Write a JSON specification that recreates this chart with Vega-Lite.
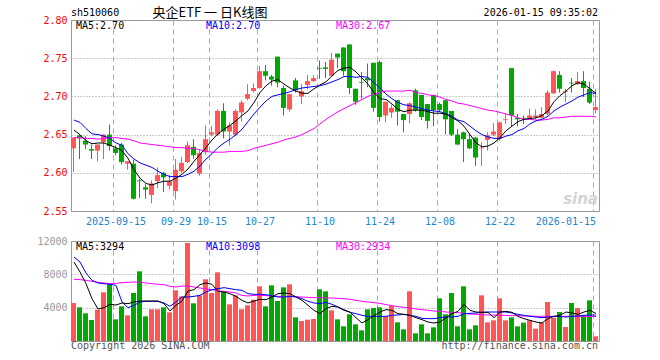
{
"$schema": "https://vega.github.io/schema/vega-lite/v6.json",
"background": "white",
"padding": {"left": 36, "top": 6, "right": 0, "bottom": 0},
"spacing": 30,
"bounds": "flush",
"config": {"view": {"stroke": "#999", "strokeWidth": 1}, "axis": {"labelFont": "DejaVu Sans Mono", "labelFontSize": 10}, "text": {"font": "DejaVu Sans Mono", "fontSize": 10}},
"datasets": {"k": [
{"d":"2025-09-04","o":2.632,"c":2.646,"h":2.646,"l":2.601,"v":4560,"m5":2.656,"m10":2.669,"m30":2.646,"v5":9480,"v10":10080,"v30":7400},
{"d":"2025-09-05","o":2.649,"c":2.645,"h":2.650,"l":2.618,"v":4040,"m5":2.650,"m10":2.666,"m30":2.646,"v5":8280,"v10":9480,"v30":7360},
{"d":"2025-09-08","o":2.642,"c":2.637,"h":2.648,"l":2.631,"v":3320,"m5":2.642,"m10":2.658,"m30":2.645,"v5":6880,"v10":8160,"v30":7280},
{"d":"2025-09-09","o":2.631,"c":2.629,"h":2.637,"l":2.618,"v":2520,"m5":2.638,"m10":2.651,"m30":2.645,"v5":5080,"v10":7280,"v30":7160},
{"d":"2025-09-10","o":2.629,"c":2.637,"h":2.637,"l":2.615,"v":3760,"m5":2.639,"m10":2.650,"m30":2.644,"v5":3840,"v10":6960,"v30":7040},
{"d":"2025-09-11","o":2.640,"c":2.650,"h":2.650,"l":2.618,"v":5840,"m5":2.639,"m10":2.648,"m30":2.645,"v5":4000,"v10":6880,"v30":6960},
{"d":"2025-09-12","o":2.650,"c":2.635,"h":2.663,"l":2.629,"v":6800,"m5":2.636,"m10":2.645,"m30":2.646,"v5":4400,"v10":6800,"v30":6880},
{"d":"2025-09-15","o":2.632,"c":2.626,"h":2.636,"l":2.623,"v":2600,"m5":2.633,"m10":2.639,"m30":2.646,"v5":4320,"v10":6680,"v30":6920},
{"d":"2025-09-16","o":2.637,"c":2.614,"h":2.639,"l":2.611,"v":4160,"m5":2.629,"m10":2.636,"m30":2.645,"v5":4560,"v10":4680,"v30":7000},
{"d":"2025-09-17","o":2.612,"c":2.615,"h":2.615,"l":2.604,"v":3080,"m5":2.619,"m10":2.625,"m30":2.644,"v5":4480,"v10":4000,"v30":7040},
{"d":"2025-09-18","o":2.612,"c":2.566,"h":2.617,"l":2.565,"v":5760,"m5":2.604,"m10":2.618,"m30":2.642,"v5":4680,"v10":4280,"v30":7080},
{"d":"2025-09-19","o":2.590,"c":2.589,"h":2.592,"l":2.567,"v":8360,"m5":2.593,"m10":2.613,"m30":2.639,"v5":4800,"v10":4680,"v30":7080},
{"d":"2025-09-22","o":2.581,"c":2.578,"h":2.585,"l":2.566,"v":2960,"m5":2.586,"m10":2.610,"m30":2.638,"v5":4800,"v10":4760,"v30":6960},
{"d":"2025-09-23","o":2.571,"c":2.586,"h":2.590,"l":2.560,"v":3800,"m5":2.584,"m10":2.607,"m30":2.637,"v5":4800,"v10":4760,"v30":6880},
{"d":"2025-09-24","o":2.589,"c":2.597,"h":2.607,"l":2.580,"v":3800,"m5":2.587,"m10":2.602,"m30":2.636,"v5":4800,"v10":4760,"v30":6800},
{"d":"2025-09-25","o":2.600,"c":2.594,"h":2.601,"l":2.575,"v":4040,"m5":2.589,"m10":2.598,"m30":2.635,"v5":4480,"v10":4560,"v30":6760},
{"d":"2025-09-26","o":2.583,"c":2.589,"h":2.597,"l":2.578,"v":3440,"m5":2.589,"m10":2.595,"m30":2.634,"v5":3600,"v10":4160,"v30":6560},
{"d":"2025-09-29","o":2.576,"c":2.604,"h":2.618,"l":2.565,"v":6080,"m5":2.593,"m10":2.595,"m30":2.633,"v5":4280,"v10":4680,"v30":6480},
{"d":"2025-09-30","o":2.602,"c":2.613,"h":2.621,"l":2.600,"v":5360,"m5":2.598,"m10":2.595,"m30":2.633,"v5":4800,"v10":5280,"v30":6600},
{"d":"2025-10-09","o":2.614,"c":2.636,"h":2.641,"l":2.613,"v":11760,"m5":2.605,"m10":2.598,"m30":2.632,"v5":6000,"v10":5280,"v30":6600},
{"d":"2025-10-10","o":2.634,"c":2.623,"h":2.644,"l":2.618,"v":4520,"m5":2.615,"m10":2.602,"m30":2.632,"v5":6160,"v10":5360,"v30":6480},
{"d":"2025-10-13","o":2.599,"c":2.626,"h":2.631,"l":2.596,"v":5480,"m5":2.624,"m10":2.609,"m30":2.630,"v5":6760,"v10":5480,"v30":6360},
{"d":"2025-10-14","o":2.627,"c":2.644,"h":2.662,"l":2.624,"v":7400,"m5":2.633,"m10":2.618,"m30":2.628,"v5":6960,"v10":5880,"v30":6240},
{"d":"2025-10-15","o":2.650,"c":2.653,"h":2.661,"l":2.648,"v":5760,"m5":2.643,"m10":2.625,"m30":2.627,"v5":6800,"v10":6160,"v30":6160},
{"d":"2025-10-16","o":2.650,"c":2.681,"h":2.683,"l":2.648,"v":8240,"m5":2.651,"m10":2.633,"m30":2.627,"v5":5960,"v10":6280,"v30":6000},
{"d":"2025-10-17","o":2.681,"c":2.654,"h":2.691,"l":2.645,"v":5880,"m5":2.657,"m10":2.639,"m30":2.627,"v5":5880,"v10":6400,"v30":5960},
{"d":"2025-10-20","o":2.654,"c":2.662,"h":2.666,"l":2.636,"v":4400,"m5":2.662,"m10":2.644,"m30":2.628,"v5":5680,"v10":6280,"v30":5880},
{"d":"2025-10-21","o":2.650,"c":2.681,"h":2.683,"l":2.648,"v":5480,"m5":2.668,"m10":2.650,"m30":2.628,"v5":5360,"v10":6160,"v30":5760},
{"d":"2025-10-22","o":2.679,"c":2.692,"h":2.695,"l":2.667,"v":3800,"m5":2.675,"m10":2.657,"m30":2.628,"v5":4880,"v10":6080,"v30":5480},
{"d":"2025-10-23","o":2.697,"c":2.703,"h":2.716,"l":2.695,"v":4280,"m5":2.681,"m10":2.667,"m30":2.629,"v5":4560,"v10":5680,"v30":5400},
{"d":"2025-10-24","o":2.707,"c":2.711,"h":2.717,"l":2.705,"v":4960,"m5":2.692,"m10":2.677,"m30":2.632,"v5":4800,"v10":5600,"v30":5480},
{"d":"2025-10-27","o":2.711,"c":2.733,"h":2.740,"l":2.710,"v":6560,"m5":2.705,"m10":2.686,"m30":2.634,"v5":5000,"v10":5600,"v30":5480},
{"d":"2025-10-28","o":2.733,"c":2.727,"h":2.741,"l":2.721,"v":4160,"m5":2.714,"m10":2.694,"m30":2.636,"v5":4960,"v10":5560,"v30":5440},
{"d":"2025-10-29","o":2.726,"c":2.722,"h":2.728,"l":2.714,"v":6680,"m5":2.720,"m10":2.700,"m30":2.638,"v5":5280,"v10":5400,"v30":5400},
{"d":"2025-10-30","o":2.752,"c":2.718,"h":2.752,"l":2.712,"v":4800,"m5":2.722,"m10":2.702,"m30":2.640,"v5":5680,"v10":5280,"v30":5360},
{"d":"2025-10-31","o":2.711,"c":2.685,"h":2.714,"l":2.675,"v":6440,"m5":2.716,"m10":2.704,"m30":2.643,"v5":5760,"v10":5280,"v30":5360},
{"d":"2025-11-03","o":2.683,"c":2.703,"h":2.703,"l":2.680,"v":6800,"m5":2.711,"m10":2.706,"m30":2.645,"v5":5680,"v10":5360,"v30":5360},
{"d":"2025-11-04","o":2.721,"c":2.708,"h":2.724,"l":2.705,"v":2840,"m5":2.707,"m10":2.709,"m30":2.647,"v5":5280,"v10":5280,"v30":5320},
{"d":"2025-11-05","o":2.700,"c":2.707,"h":2.716,"l":2.690,"v":2400,"m5":2.704,"m10":2.711,"m30":2.650,"v5":4880,"v10":5080,"v30":5280},
{"d":"2025-11-06","o":2.715,"c":2.720,"h":2.728,"l":2.709,"v":2560,"m5":2.704,"m10":2.712,"m30":2.654,"v5":4280,"v10":4760,"v30":5240},
{"d":"2025-11-07","o":2.720,"c":2.724,"h":2.728,"l":2.719,"v":2640,"m5":2.710,"m10":2.713,"m30":2.658,"v5":3680,"v10":4560,"v30":5200},
{"d":"2025-11-10","o":2.737,"c":2.736,"h":2.747,"l":2.723,"v":6200,"m5":2.715,"m10":2.714,"m30":2.664,"v5":3280,"v10":4480,"v30":5200},
{"d":"2025-11-11","o":2.738,"c":2.736,"h":2.745,"l":2.724,"v":5960,"m5":2.719,"m10":2.716,"m30":2.670,"v5":3880,"v10":4640,"v30":5160},
{"d":"2025-11-12","o":2.727,"c":2.748,"h":2.757,"l":2.726,"v":3680,"m5":2.727,"m10":2.719,"m30":2.675,"v5":4160,"v10":4400,"v30":5160},
{"d":"2025-11-13","o":2.756,"c":2.751,"h":2.756,"l":2.737,"v":2600,"m5":2.734,"m10":2.722,"m30":2.680,"v5":4080,"v10":4080,"v30":5120},
{"d":"2025-11-14","o":2.764,"c":2.733,"h":2.764,"l":2.727,"v":1760,"m5":2.737,"m10":2.726,"m30":2.684,"v5":3680,"v10":3760,"v30":5080},
{"d":"2025-11-17","o":2.768,"c":2.711,"h":2.768,"l":2.703,"v":3200,"m5":2.738,"m10":2.726,"m30":2.688,"v5":3480,"v10":3440,"v30":5000},
{"d":"2025-11-18","o":2.710,"c":2.693,"h":2.710,"l":2.689,"v":2000,"m5":2.732,"m10":2.725,"m30":2.692,"v5":2800,"v10":3280,"v30":4880},
{"d":"2025-11-19","o":2.719,"c":2.718,"h":2.732,"l":2.697,"v":1280,"m5":2.724,"m10":2.726,"m30":2.696,"v5":2160,"v10":3080,"v30":4760},
{"d":"2025-11-20","o":2.724,"c":2.721,"h":2.743,"l":2.712,"v":3800,"m5":2.716,"m10":2.725,"m30":2.700,"v5":2560,"v10":2960,"v30":4680},
{"d":"2025-11-21","o":2.744,"c":2.685,"h":2.744,"l":2.680,"v":3960,"m5":2.705,"m10":2.718,"m30":2.703,"v5":3040,"v10":2960,"v30":4600},
{"d":"2025-11-24","o":2.745,"c":2.673,"h":2.747,"l":2.667,"v":4040,"m5":2.697,"m10":2.711,"m30":2.705,"v5":3480,"v10":2960,"v30":4520},
{"d":"2025-11-25","o":2.675,"c":2.693,"h":2.693,"l":2.666,"v":2960,"m5":2.696,"m10":2.703,"m30":2.707,"v5":3760,"v10":2960,"v30":4360},
{"d":"2025-11-26","o":2.679,"c":2.685,"h":2.689,"l":2.672,"v":4200,"m5":2.690,"m10":2.697,"m30":2.707,"v5":3680,"v10":3080,"v30":4240},
{"d":"2025-11-27","o":2.695,"c":2.680,"h":2.695,"l":2.662,"v":2240,"m5":2.683,"m10":2.692,"m30":2.707,"v5":3280,"v10":3120,"v30":4120},
{"d":"2025-11-28","o":2.677,"c":2.669,"h":2.677,"l":2.653,"v":1400,"m5":2.680,"m10":2.689,"m30":2.707,"v5":3200,"v10":3200,"v30":4040},
{"d":"2025-12-01","o":2.677,"c":2.691,"h":2.692,"l":2.665,"v":5960,"m5":2.682,"m10":2.688,"m30":2.708,"v5":3080,"v10":3080,"v30":3960},
{"d":"2025-12-02","o":2.708,"c":2.682,"h":2.710,"l":2.680,"v":920,"m5":2.682,"m10":2.686,"m30":2.705,"v5":2800,"v10":2960,"v30":3840},
{"d":"2025-12-03","o":2.702,"c":2.673,"h":2.702,"l":2.669,"v":2000,"m5":2.682,"m10":2.684,"m30":2.704,"v5":2560,"v10":2720,"v30":3760},
{"d":"2025-12-04","o":2.690,"c":2.668,"h":2.690,"l":2.658,"v":920,"m5":2.680,"m10":2.682,"m30":2.702,"v5":2280,"v10":2680,"v30":3680},
{"d":"2025-12-05","o":2.702,"c":2.682,"h":2.702,"l":2.661,"v":1640,"m5":2.678,"m10":2.681,"m30":2.701,"v5":2160,"v10":2680,"v30":3600},
{"d":"2025-12-08","o":2.690,"c":2.682,"h":2.692,"l":2.680,"v":5120,"m5":2.678,"m10":2.680,"m30":2.699,"v5":2280,"v10":2800,"v30":3560},
{"d":"2025-12-09","o":2.695,"c":2.670,"h":2.695,"l":2.650,"v":3200,"m5":2.677,"m10":2.677,"m30":2.696,"v5":2800,"v10":2880,"v30":3480},
{"d":"2025-12-10","o":2.681,"c":2.650,"h":2.681,"l":2.648,"v":5760,"m5":2.672,"m10":2.674,"m30":2.694,"v5":3280,"v10":2880,"v30":3440},
{"d":"2025-12-11","o":2.650,"c":2.637,"h":2.657,"l":2.636,"v":1760,"m5":2.668,"m10":2.669,"m30":2.691,"v5":3560,"v10":2960,"v30":3400},
{"d":"2025-12-12","o":2.653,"c":2.644,"h":2.654,"l":2.614,"v":6560,"m5":2.661,"m10":2.667,"m30":2.690,"v5":4400,"v10":3280,"v30":3320},
{"d":"2025-12-15","o":2.644,"c":2.632,"h":2.651,"l":2.631,"v":1400,"m5":2.650,"m10":2.661,"m30":2.688,"v5":3680,"v10":3320,"v30":3240},
{"d":"2025-12-16","o":2.646,"c":2.620,"h":2.647,"l":2.609,"v":1880,"m5":2.639,"m10":2.655,"m30":2.686,"v5":3480,"v10":3360,"v30":3200},
{"d":"2025-12-17","o":2.632,"c":2.633,"h":2.640,"l":2.609,"v":5480,"m5":2.634,"m10":2.650,"m30":2.684,"v5":3440,"v10":3440,"v30":3160},
{"d":"2025-12-18","o":2.643,"c":2.649,"h":2.653,"l":2.629,"v":2240,"m5":2.635,"m10":2.647,"m30":2.682,"v5":3440,"v10":3480,"v30":3120},
{"d":"2025-12-19","o":2.650,"c":2.654,"h":2.665,"l":2.648,"v":2480,"m5":2.639,"m10":2.645,"m30":2.681,"v5":2800,"v10":3480,"v30":3120},
{"d":"2025-12-22","o":2.644,"c":2.666,"h":2.667,"l":2.642,"v":5120,"m5":2.646,"m10":2.645,"m30":2.679,"v5":3480,"v10":3480,"v30":3080},
{"d":"2025-12-23","o":2.669,"c":2.670,"h":2.677,"l":2.664,"v":2480,"m5":2.655,"m10":2.648,"m30":2.677,"v5":3560,"v10":3480,"v30":3080},
{"d":"2025-12-24","o":2.737,"c":2.675,"h":2.737,"l":2.661,"v":2840,"m5":2.661,"m10":2.650,"m30":2.675,"v5":3440,"v10":3360,"v30":3040},
{"d":"2025-12-25","o":2.672,"c":2.670,"h":2.677,"l":2.661,"v":1760,"m5":2.667,"m10":2.655,"m30":2.672,"v5":2960,"v10":3200,"v30":3040},
{"d":"2025-12-26","o":2.672,"c":2.671,"h":2.675,"l":2.664,"v":2200,"m5":2.670,"m10":2.658,"m30":2.670,"v5":2680,"v10":3080,"v30":3000},
{"d":"2025-12-29","o":2.671,"c":2.675,"h":2.684,"l":2.670,"v":2480,"m5":2.671,"m10":2.664,"m30":2.670,"v5":2480,"v10":2960,"v30":3000},
{"d":"2025-12-30","o":2.673,"c":2.675,"h":2.683,"l":2.670,"v":1480,"m5":2.672,"m10":2.668,"m30":2.669,"v5":2280,"v10":2880,"v30":2960},
{"d":"2025-12-31","o":2.672,"c":2.677,"h":2.686,"l":2.671,"v":2200,"m5":2.675,"m10":2.670,"m30":2.669,"v5":2160,"v10":2800,"v30":2960},
{"d":"2026-01-05","o":2.677,"c":2.705,"h":2.708,"l":2.675,"v":4680,"m5":2.681,"m10":2.674,"m30":2.670,"v5":2680,"v10":2880,"v30":2960},
{"d":"2026-01-06","o":2.704,"c":2.733,"h":2.734,"l":2.703,"v":2800,"m5":2.693,"m10":2.681,"m30":2.672,"v5":2960,"v10":2960,"v30":2960},
{"d":"2026-01-07","o":2.728,"c":2.710,"h":2.733,"l":2.705,"v":3480,"m5":2.701,"m10":2.686,"m30":2.672,"v5":3080,"v10":2920,"v30":2960},
{"d":"2026-01-08","o":2.706,"c":2.707,"h":2.710,"l":2.692,"v":1680,"m5":2.707,"m10":2.690,"m30":2.673,"v5":3480,"v10":2880,"v30":2960},
{"d":"2026-01-09","o":2.718,"c":2.717,"h":2.724,"l":2.705,"v":4560,"m5":2.714,"m10":2.694,"m30":2.674,"v5":3360,"v10":2960,"v30":2960},
{"d":"2026-01-12","o":2.716,"c":2.720,"h":2.732,"l":2.715,"v":3960,"m5":2.718,"m10":2.699,"m30":2.674,"v5":3200,"v10":3000,"v30":2960},
{"d":"2026-01-13","o":2.720,"c":2.711,"h":2.733,"l":2.699,"v":3080,"m5":2.716,"m10":2.702,"m30":2.674,"v5":3480,"v10":3080,"v30":2950},
{"d":"2026-01-14","o":2.710,"c":2.692,"h":2.719,"l":2.690,"v":4880,"m5":2.710,"m10":2.705,"m30":2.674,"v5":3680,"v10":3120,"v30":2940},
{"d":"2026-01-15","o":2.682,"c":2.686,"h":2.710,"l":2.678,"v":560,"m5":2.704,"m10":2.704,"m30":2.673,"v5":3294,"v10":3098,"v30":2934}
]},
"vconcat": [
{
"width": 528, "height": 191,
"data": {"name": "k"},
"encoding": {"x": {"field": "d", "type": "ordinal", "scale": {"paddingInner": 0, "paddingOuter": 0},
  "axis": {"title": null, "values": ["2025-09-15","2025-09-29","2025-10-15","2025-10-27","2025-11-10","2025-11-24","2025-12-08","2025-12-22","2026-01-15"],
   "labelExpr": "datum.value == '2025-09-15' || datum.value == '2026-01-15' ? datum.value : slice(datum.value, 5)",
   "labelAngle": 0, "labelColor": "#1a86d0", "labelPadding": 5, "ticks": false, "tickSize": 0, "domain": false, "labelOverlap": false,
   "labelAlign": {"condition": {"test": "datum.value == '2026-01-15'", "value": "right"}, "value": "center"},
   "grid": true, "gridDash": [5, 4], "gridColor": "#aaa", "bandPosition": 0.08}}},
"layer": [
 {"mark": {"type": "rule", "xOffset": -0.5, "strokeWidth": 1},
  "encoding": {"y": {"field": "l", "type": "quantitative", "scale": {"domain": [2.55, 2.8], "zero": false, "nice": false},
     "axis": {"title": null, "values": [2.55, 2.6, 2.65, 2.7, 2.75, 2.8], "tickCount": 12, "format": ".2f", "labelColor": "#ff0000", "labelOverlap": false, "ticks": false, "tickSize": 0, "domain": false, "labelPadding": 4, "grid": true, "gridDash": [1, 2], "gridColor": "#999"}},
   "y2": {"field": "h"},
   "color": {"condition": {"test": "datum.c >= datum.o", "value": "#ff5555"}, "value": "#00a800"}}},
 {"mark": {"type": "bar", "width": 5, "xOffset": -0.5},
  "encoding": {"y": {"field": "o", "type": "quantitative"}, "y2": {"field": "c"},
   "color": {"condition": {"test": "datum.c >= datum.o", "value": "#ff5555"}, "value": "#00a800"}}},
 {"mark": {"type": "line", "color": "#ff00ff", "strokeWidth": 1}, "encoding": {"y": {"field": "m30", "type": "quantitative"}}},
 {"mark": {"type": "line", "color": "#0000ff", "strokeWidth": 1}, "encoding": {"y": {"field": "m10", "type": "quantitative"}}},
 {"mark": {"type": "line", "color": "#000000", "strokeWidth": 1}, "encoding": {"y": {"field": "m5", "type": "quantitative"}}},
 {"data": {"values": [{}]}, "mark": {"type": "text", "text": "MA5:2.70", "align": "left", "baseline": "middle", "dx": 2, "dy": 6, "color": "#000000"},
  "encoding": {"x": {"datum": "2025-09-04"}, "y": {"datum": 2.8}}},
 {"data": {"values": [{}]}, "mark": {"type": "text", "text": "MA10:2.70", "align": "left", "baseline": "middle", "dx": 0, "dy": 6, "color": "#0000ff"},
  "encoding": {"x": {"datum": "2025-10-14"}, "y": {"datum": 2.8}}},
 {"data": {"values": [{}]}, "mark": {"type": "text", "text": "MA30:2.67", "align": "left", "baseline": "middle", "dx": -2, "dy": 6, "color": "#ff00ff"},
  "encoding": {"x": {"datum": "2025-11-13"}, "y": {"datum": 2.8}}},
 {"data": {"values": [{}]}, "mark": {"type": "text", "text": "sh510060", "align": "left", "baseline": "middle", "dx": -3, "dy": -7, "color": "#000000"},
  "encoding": {"x": {"datum": "2025-09-04"}, "y": {"datum": 2.8}}},
 {"data": {"values": [{}]}, "mark": {"type": "text", "text": "央企ETF 一 日K线图", "font": "Noto Sans CJK SC", "fontSize": 13, "align": "center", "baseline": "middle", "dx": -2, "dy": -7, "color": "#000000"},
  "encoding": {"x": {"datum": "2025-10-15"}, "y": {"datum": 2.8}}},
 {"data": {"values": [{}]}, "mark": {"type": "text", "text": "2026-01-15 09:35:02", "align": "right", "baseline": "middle", "dx": 2, "dy": -7, "color": "#000000"},
  "encoding": {"x": {"datum": "2026-01-15"}, "y": {"datum": 2.8}}},
 {"data": {"values": [{}]}, "mark": {"type": "text", "text": "sina", "font": "DejaVu Sans", "fontSize": 15, "fontStyle": "italic", "fontWeight": "bold", "align": "right", "baseline": "bottom", "dx": 2, "dy": -4, "color": "#d4d4d4"},
  "encoding": {"x": {"datum": "2026-01-15"}, "y": {"datum": 2.55}}}
]
},
{
"width": 528, "height": 100,
"data": {"name": "k"},
"encoding": {"x": {"field": "d", "type": "ordinal", "scale": {"paddingInner": 0, "paddingOuter": 0},
  "axis": {"title": null, "values": ["2025-09-15","2025-09-29","2025-10-15","2025-10-27","2025-11-10","2025-11-24","2025-12-08","2025-12-22","2026-01-15"],
   "labels": false, "ticks": false, "tickSize": 0, "domain": false, "grid": true, "gridDash": [5, 4], "gridColor": "#aaa", "bandPosition": 0.08}}},
"layer": [
 {"mark": {"type": "bar", "width": 5, "xOffset": -0.5},
  "encoding": {"y": {"field": "v", "type": "quantitative", "scale": {"domain": [0, 12000], "nice": false},
     "axis": {"title": null, "values": [4000, 8000, 12000], "tickCount": 12, "format": "d", "labelColor": "#999", "labelOverlap": false, "ticks": false, "tickSize": 0, "domain": false, "labelPadding": 4, "grid": true, "gridDash": [1, 2], "gridColor": "#999"}},
   "color": {"condition": {"test": "datum.c >= datum.o", "value": "#ff5555"}, "value": "#00a800"}}},
 {"mark": {"type": "line", "color": "#ff00ff", "strokeWidth": 1}, "encoding": {"y": {"field": "v30", "type": "quantitative"}}},
 {"mark": {"type": "line", "color": "#0000ff", "strokeWidth": 1}, "encoding": {"y": {"field": "v10", "type": "quantitative"}}},
 {"mark": {"type": "line", "color": "#000000", "strokeWidth": 1}, "encoding": {"y": {"field": "v5", "type": "quantitative"}}},
 {"data": {"values": [{}]}, "mark": {"type": "text", "text": "MA5:3294", "align": "left", "baseline": "middle", "dx": 2, "dy": 6, "color": "#000000"},
  "encoding": {"x": {"datum": "2025-09-04"}, "y": {"datum": 12000}}},
 {"data": {"values": [{}]}, "mark": {"type": "text", "text": "MA10:3098", "align": "left", "baseline": "middle", "dx": 0, "dy": 6, "color": "#0000ff"},
  "encoding": {"x": {"datum": "2025-10-14"}, "y": {"datum": 12000}}},
 {"data": {"values": [{}]}, "mark": {"type": "text", "text": "MA30:2934", "align": "left", "baseline": "middle", "dx": -2, "dy": 6, "color": "#ff00ff"},
  "encoding": {"x": {"datum": "2025-11-13"}, "y": {"datum": 12000}}},
 {"data": {"values": [{}]}, "mark": {"type": "text", "text": "Copyright 2026 SINA.COM", "align": "left", "baseline": "middle", "dx": -3, "dy": 5, "color": "#555555"},
  "encoding": {"x": {"datum": "2025-09-04"}, "y": {"datum": 0}}},
 {"data": {"values": [{}]}, "mark": {"type": "text", "text": "http://finance.sina.com.cn", "align": "right", "baseline": "middle", "dx": 2, "dy": 5, "color": "#555555"},
  "encoding": {"x": {"datum": "2026-01-15"}, "y": {"datum": 0}}}
]
}
]
}
